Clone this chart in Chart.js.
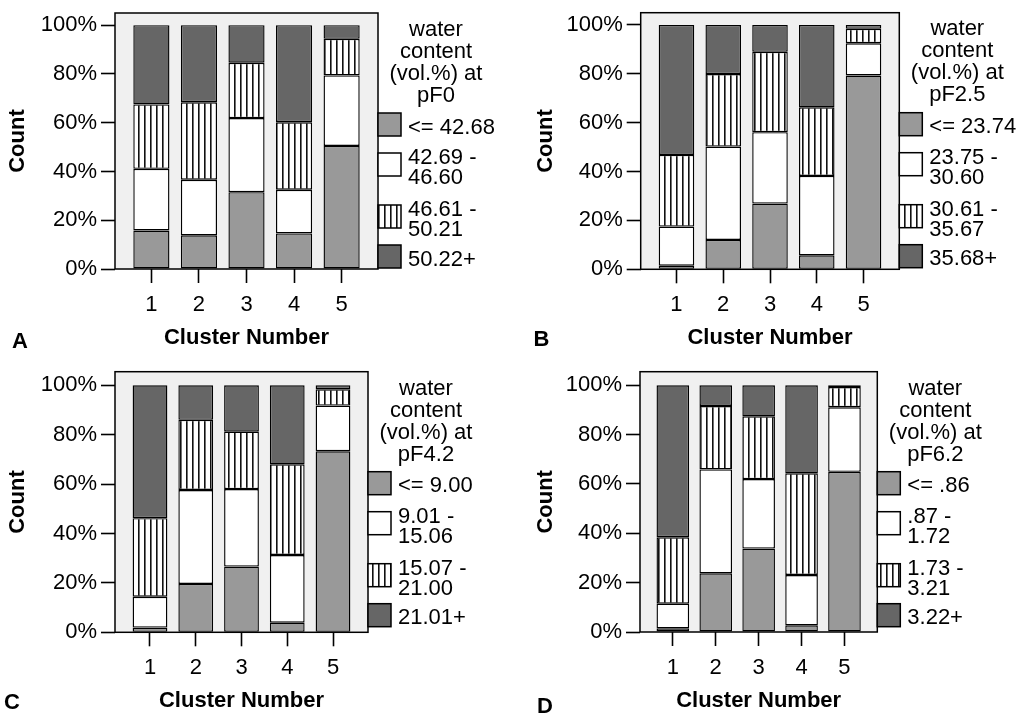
<!DOCTYPE html>
<html>
<head>
<meta charset="utf-8">
<script src="https://cdn.jsdelivr.net/npm/chart.js@4"></script>
<style>
  body { margin: 0; background: #fff; }
  .panel { position: absolute; }
</style>
</head>
<body>
<canvas id="chartA" class="panel" width="508" height="357" style="left:0;top:0"></canvas>
<canvas id="chartB" class="panel" width="508" height="357" style="left:508px;top:0"></canvas>
<canvas id="chartC" class="panel" width="508" height="358" style="left:0;top:357px"></canvas>
<canvas id="chartD" class="panel" width="508" height="358" style="left:508px;top:357px"></canvas>
<script>
// dados (% por cluster)
const clusters = [1, 2, 3, 4, 5];
const yTicks = [0, 20, 40, 60, 80, 100];

// A - pF0
const pF0Low  = [15.8, 13.8, 31.5, 14.6, 50.5];
const pF0Mid  = [25.3, 22.8, 30.4, 17.9, 28.9];
const pF0High = [26.4, 31.8, 22.7, 27.7, 15.0];
const pF0Top  = [32.5, 31.6, 15.4, 39.8, 5.6];
const pF0Labels = ['<= 42.68', ['42.69 -', '46.60'], ['46.61 -', '50.21'], '50.22+'];

// B - pF2.5
const pF25Low  = [1.5, 12.0, 26.9, 5.7, 79.3];
const pF25Mid  = [16.0, 38.2, 29.2, 32.5, 13.2];
const pF25High = [29.3, 29.7, 32.9, 28.1, 5.9];
const pF25Top  = [53.2, 20.1, 11.0, 33.7, 1.6];
const pF25Labels = ['<= 23.74', ['23.75 -', '30.60'], ['30.61 -', '35.67'], '35.68+'];

// C - pF4.2
const pF42Low  = [1.9, 19.6, 26.6, 3.9, 73.3];
const pF42Mid  = [12.5, 38.0, 31.4, 27.4, 18.5];
const pF42High = [31.8, 28.4, 23.2, 36.7, 6.6];
const pF42Top  = [53.8, 14.0, 18.8, 32.0, 1.6];
const pF42Labels = ['<= 9.00', ['9.01 -', '15.06'], ['15.07 -', '21.00'], '21.01+'];

// D - pF6.2
const pF62Low  = [1.5, 23.8, 33.8, 2.7, 64.9];
const pF62Mid  = [10.0, 42.1, 28.2, 20.4, 26.2];
const pF62High = [26.9, 25.7, 25.4, 41.2, 8.2];
const pF62Top  = [61.6, 8.4, 12.6, 35.7, 0.7];
const pF62Labels = ['<= .86', ['.87 -', '1.72'], ['1.73 -', '3.21'], '3.22+'];

const FONT = "'Liberation Sans', Arial, sans-serif";

function hachura() {
    const c = document.createElement('canvas');
    c.width = 6; c.height = 6;
    const g = c.getContext('2d');
    g.fillStyle = '#fff';
    g.fillRect(0, 0, 6, 6);
    g.fillStyle = '#111';
    g.fillRect(0, 0, 1.6, 6);
    return g.createPattern(c, 'repeat');
}

const cores = ['#999999', '#ffffff', null, '#666666'];

// fundo cinza, legenda lateral e letra do painel
const painelPlugin = {
    id: 'painel',
    beforeDatasetsDraw(chart) {
        const a = chart.chartArea;
        const ctx = chart.ctx;
        ctx.save();
        ctx.fillStyle = '#f0f0f0';
        ctx.fillRect(a.left, a.top, a.right - a.left, a.bottom - a.top);
        ctx.strokeStyle = '#000';
        ctx.lineWidth = 1.5;
        ctx.strokeRect(a.left, a.top, a.right - a.left, a.bottom - a.top);
        ctx.restore();
    },
    afterDraw(chart, args, opts) {
        const a = chart.chartArea;
        const ctx = chart.ctx;
        ctx.save();
        ctx.fillStyle = '#000';
        ctx.font = '22px ' + FONT;
        ctx.textAlign = 'center';
        ctx.textBaseline = 'alphabetic';
        opts.titulo.forEach((t, i) => {
            ctx.fillText(t, a.right + 58, a.top + opts.tituloY + i * 22);
        });
        const tops = [100, 140, 192, 232];
        chart.data.datasets.forEach((ds, i) => {
            const y = a.top + tops[i];
            ctx.fillStyle = ds.backgroundColor;
            ctx.fillRect(a.right, y, 23, 23);
            ctx.strokeStyle = '#000';
            ctx.lineWidth = 1.5;
            ctx.strokeRect(a.right, y, 23, 23);
            ctx.fillStyle = '#000';
            ctx.textAlign = 'left';
            if (Array.isArray(ds.label)) {
                ctx.fillText(ds.label[0], a.right + 30, y + 11);
                ctx.fillText(ds.label[1], a.right + 30, y + 31);
            } else {
                ctx.fillText(ds.label, a.right + 30, y + 20.5);
            }
        });
        ctx.font = 'bold 22px ' + FONT;
        ctx.textAlign = 'center';
        ctx.textBaseline = 'middle';
        ctx.fillText(opts.letra, opts.letraX, opts.letraY);
        ctx.restore();
    }
};

function criarPainel(id, series, rotulos, titulo, cfg) {
    const padrao = hachura();
    const datasets = series.map((s, k) => ({
        label: rotulos[k],
        data: clusters.map((c, i) => ({ x: c, y: s[i] })),
        backgroundColor: k == 2 ? padrao : cores[k],
        borderColor: '#000',
        borderWidth: 1.4,
        borderSkipped: false,
        barPercentage: 1,
        categoryPercentage: 0.76
    }));

    return new Chart(document.getElementById(id), {
        type: 'bar',
        data: { datasets: datasets },
        options: {
            responsive: false,
            animation: false,
            layout: {
                autoPadding: false,
                padding: { left: cfg.padLeft, top: cfg.top, right: cfg.padRight, bottom: 0 }
            },
            plugins: {
                legend: { display: false },
                tooltip: { enabled: false },
                painel: { titulo: titulo, tituloY: cfg.tituloY, letra: cfg.letra, letraX: cfg.letraX, letraY: cfg.letraY }
            },
            scales: {
                x: {
                    type: 'linear',
                    stacked: true,
                    offset: false,
                    min: 0.235,
                    max: 5.765,
                    afterBuildTicks: (s) => { s.ticks = clusters.map(v => ({ value: v })); },
                    afterFit: (s) => { s.height = cfg.xHeight; s.paddingLeft = 0; s.paddingRight = 0; },
                    grid: { offset: false, drawOnChartArea: false, tickLength: 14, tickWidth: 1.6, tickColor: '#000' },
                    border: { display: false },
                    ticks: { color: '#000', padding: 8.8, font: { family: FONT, size: 22 }, maxRotation: 0 },
                    title: {
                        display: true, text: 'Cluster Number', color: '#000',
                        font: { family: FONT, size: 22, weight: 'bold' },
                        padding: { top: 0, bottom: cfg.xTitlePad }
                    }
                },
                y: {
                    stacked: true,
                    min: 0,
                    max: cfg.yMax,
                    afterBuildTicks: (s) => { s.ticks = yTicks.map(v => ({ value: v })); },
                    afterFit: (s) => { s.width = cfg.yWidth; s.paddingTop = 0; s.paddingBottom = 0; },
                    grid: { drawOnChartArea: false, tickLength: 14, tickWidth: 1.6, tickColor: '#000' },
                    border: { display: false },
                    ticks: { color: '#000', padding: 4, font: { family: FONT, size: 22 }, callback: v => v + '%' },
                    title: {
                        display: true, text: 'Count', color: '#000',
                        font: { family: FONT, size: 22, weight: 'bold' },
                        padding: { top: 4.8, bottom: 0 }
                    }
                }
            }
        },
        plugins: [painelPlugin]
    });
}

criarPainel('chartA', [pF0Low, pF0Mid, pF0High, pF0Top], pF0Labels,
    ['water', 'content', '(vol.%) at', 'pF0'],
    { padLeft: 0, top: 13, padRight: 130, yWidth: 115, xHeight: 88, yMax: 105, xTitlePad: 5.8, tituloY: 22.5, letra: 'A', letraX: 20, letraY: 342 });

criarPainel('chartB', [pF25Low, pF25Mid, pF25High, pF25Top], pF25Labels,
    ['water', 'content', '(vol.%) at', 'pF2.5'],
    { padLeft: 20, top: 12.7, padRight: 116.7, yWidth: 112.7, xHeight: 87.7, yMax: 105, xTitlePad: 5.8, tituloY: 22.5, letra: 'B', letraX: 33.5, letraY: 340 });

criarPainel('chartC', [pF42Low, pF42Mid, pF42High, pF42Top], pF42Labels,
    ['water', 'content', '(vol.%) at', 'pF4.2'],
    { padLeft: 0, top: 14.7, padRight: 140, yWidth: 115, xHeight: 82.7, yMax: 105.5, xTitlePad: 1, tituloY: 23.5, letra: 'C', letraX: 12, letraY: 345.5 });

criarPainel('chartD', [pF62Low, pF62Mid, pF62High, pF62Top], pF62Labels,
    ['water', 'content', '(vol.%) at', 'pF6.2'],
    { padLeft: 20, top: 14.7, padRight: 138.7, yWidth: 112, xHeight: 83, yMax: 105.5, xTitlePad: 1, tituloY: 23.5, letra: 'D', letraX: 37, letraY: 349.5 });
</script>
</body>
</html>
